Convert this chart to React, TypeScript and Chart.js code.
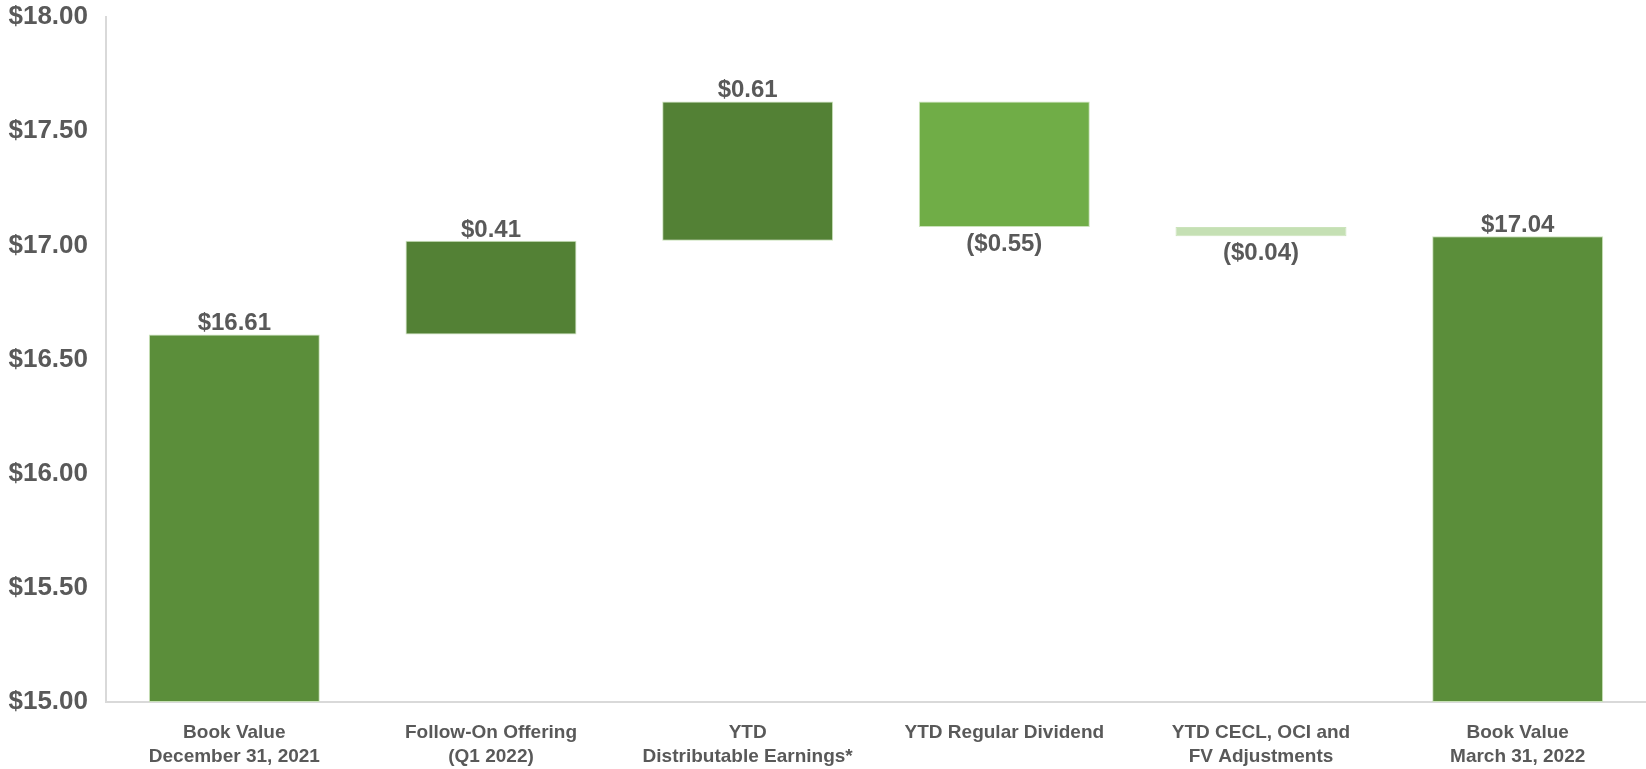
import React, { useEffect, useRef } from "react";
import { Chart, registerables } from "chart.js";

Chart.register(...registerables);

const categories: (string | string[])[] = [
  ["Book Value", "December 31, 2021"],
  ["Follow-On Offering", "(Q1 2022)"],
  ["YTD", "Distributable Earnings*"],
  "YTD Regular Dividend",
  ["YTD CECL, OCI and", "FV Adjustments"],
  ["Book Value", "March 31, 2022"],
];
const barLows = [15.0, 16.61, 17.02, 17.08, 17.04, 15.0];
const barHighs = [16.61, 17.02, 17.63, 17.63, 17.08, 17.04];
const valueLabels = ["$16.61", "$0.41", "$0.61", "($0.55)", "($0.04)", "$17.04"];
const labelBelow = [false, false, false, true, true, false];
const barColors = ["#5B8E3A", "#538135", "#538135", "#70AD47", "#C5E0B4", "#5B8E3A"];
const yMin = 15;
const yMax = 18;
const yStep = 0.5;

const TEXT = "#595959";
const FONT = "'Liberation Sans', Arial, sans-serif";

const valueLabelPlugin = {
  id: "valueLabels",
  afterDatasetsDraw(chart: any) {
    const ctx = chart.ctx;
    const meta = chart.getDatasetMeta(0);
    ctx.save();
    ctx.font = `bold 24px ${FONT}`;
    ctx.fillStyle = TEXT;
    ctx.textAlign = "center";
    ctx.textBaseline = "alphabetic";
    meta.data.forEach((bar: any, i: number) => {
      const top = Math.min(bar.y, bar.base);
      const bottom = Math.max(bar.y, bar.base);
      const y = labelBelow[i] ? bottom + 24 : top - 4;
      ctx.fillText(valueLabels[i], bar.x, y);
    });
    ctx.restore();
  },
};

export default function App() {
  const ref = useRef<HTMLCanvasElement | null>(null);
  useEffect(() => {
    if (!ref.current) return;
    const chart = new Chart(ref.current, {
      type: "bar",
      data: {
        labels: categories as any,
        datasets: [
          {
            data: barLows.map((l, i) => [l, barHighs[i]]) as any,
            backgroundColor: barColors,
            borderColor: "rgba(197,224,180,0.9)",
            borderWidth: 1,
            borderSkipped: false,
            barPercentage: 0.666,
            categoryPercentage: 1,
          },
        ],
      },
      options: {
        responsive: false,
        animation: false,
        devicePixelRatio: 1,
        layout: { padding: { left: 0, right: 0, top: 17, bottom: 0 } },
        plugins: {
          legend: { display: false },
          tooltip: { enabled: false },
        },
        scales: {
          x: {
            grid: { display: false, drawTicks: false },
            border: { display: true, color: "#D9D9D9", width: 2 },
            ticks: {
              color: TEXT,
              font: { family: FONT, size: 19, weight: "bold", lineHeight: 1.3 },
              padding: 18,
              maxRotation: 0,
              autoSkip: false,
            },
            afterFit: (scale: any) => {
              scale.height = 67;
              scale.paddingLeft = 0;
              scale.paddingRight = 0;
            },
          },
          y: {
            min: yMin,
            max: yMax,
            grid: { display: false, drawTicks: false },
            border: { display: true, color: "#D9D9D9", width: 2 },
            ticks: {
              stepSize: yStep,
              color: TEXT,
              font: { family: FONT, size: 26, weight: "bold" },
              padding: 18,
              callback: (v: any) => "$" + Number(v).toFixed(2),
            },
            afterFit: (scale: any) => {
              scale.width = 106;
              scale.paddingTop = 0;
              scale.paddingBottom = 0;
            },
          },
        },
      },
      plugins: [valueLabelPlugin],
    });
    return () => chart.destroy();
  }, []);
  return (
    <div style={{ position: "absolute", left: 0, top: 0, width: 1646, height: 769, background: "#fff" }}>
      <canvas ref={ref} width={1646} height={769} />
    </div>
  );
}
